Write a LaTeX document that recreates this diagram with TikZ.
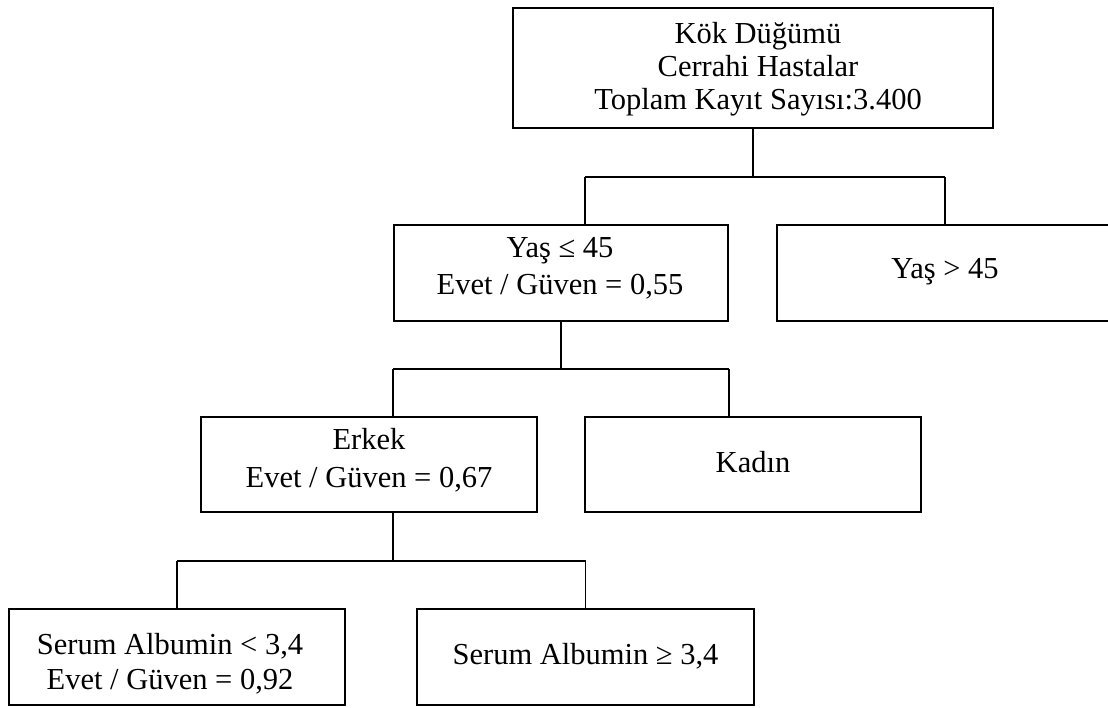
\documentclass[tikz,border=0pt]{standalone}
\usepackage{fontspec}
\setmainfont{Liberation Serif}
\begin{document}
\begin{tikzpicture}[x=1pt,y=-1pt,
  box/.style={draw=black, line width=2pt, rectangle, inner sep=0pt, outer sep=0pt},
  txt/.style={font=\fontsize{30.5}{36}\selectfont, inner sep=0pt, anchor=base},
  conn/.style={draw=black, line width=1.6pt}]
\useasboundingbox (0,0) rectangle (1108,707);
\clip (0,0) rectangle (1108,707);
% boxes
\node[box, minimum width=480, minimum height=120] (root) at (753,68) {};
\node[box, minimum width=334, minimum height=96] (yas1) at (561,273) {};
\node[box, minimum width=336, minimum height=96] (yas2) at (945,273) {};
\node[box, minimum width=336, minimum height=95] (erkek) at (369,464.5) {};
\node[box, minimum width=336, minimum height=95] (kadin) at (753,464.5) {};
\node[box, minimum width=336, minimum height=96] (ser1) at (177,657) {};
\node[box, minimum width=337, minimum height=96] (ser2) at (585.5,657) {};
% texts
\node[txt] (rootA) at (758,43) {Kök Düğümü};
\node[txt] (rootB) at (758,76) {Cerrahi Hastalar};
\node[txt] (rootC) at (758,109) {Toplam Kayıt Sayısı:3.400};
\node[txt] (yas1A) at (560,257) {Yaş ≤ 45};
\node[txt] (yas1B) at (560,294) {Evet / Güven = 0,55};
\node[txt] (yas2A) at (945,278) {Yaş > 45};
\node[txt] (erkekA) at (369,449) {Erkek};
\node[txt] (erkekB) at (369,487) {Evet / Güven = 0,67};
\node[txt] (kadinA) at (753,472) {Kadın};
\node[txt] (ser1A) at (170,654) {Serum Albumin < 3,4};
\node[txt] (ser1B) at (170,689) {Evet / Güven = 0,92};
\node[txt] (ser2A) at (585.5,664) {Serum Albumin ≥ 3,4};
% junction coordinates
\coordinate (h1l) at (585,177);
\coordinate (h1r) at (945,177);
\coordinate (h2l) at (393,369);
\coordinate (h2r) at (729,369);
\coordinate (h3l) at (177,561);
\coordinate (h3r) at (585.5,561);
% connectors
\draw[conn] (root.south) -- (root.south |- h1l);
\draw[conn] (h1l) -- (h1r);
\draw[conn] (h1l) -- (h1l |- yas1.north);
\draw[conn] (h1r) -- (yas2.north);
\draw[conn] (yas1.south) -- (yas1.south |- h2l);
\draw[conn] (h2l) -- (h2r);
\draw[conn] (h2l) -- (h2l |- erkek.north);
\draw[conn] (h2r) -- (h2r |- kadin.north);
\draw[conn] (h2l |- erkek.south) -- (h2l |- h3l);
\draw[conn] (h3l) -- (h3r);
\draw[conn] (h3l) -- (ser1.north);
\draw[conn] (h3r) -- (ser2.north);
\end{tikzpicture}
\end{document}
